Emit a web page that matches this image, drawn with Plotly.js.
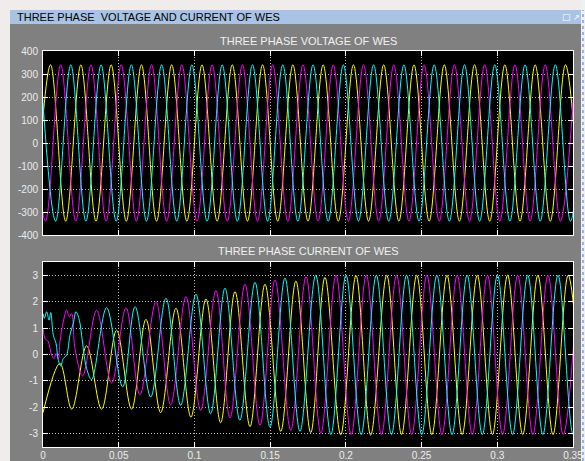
<!DOCTYPE html>
<html>
<head>
<meta charset="utf-8">
<script src="https://cdn.plot.ly/plotly-3.0.1.min.js"></script>
<style>html,body{margin:0;padding:0;background:#efeceb;}#chart{width:585px;height:461px;}</style>
</head>
<body>
<div id="chart"></div>
<script>
// ---- Voltage (V): alternating peak/trough values, one every half cycle (0.01 s)
var vYellowX0 = -0.005, vMagentaX0 = -0.008333, vCyanX0 = -0.001667, vStep = 0.01;
var vYellow = [-340,340,-340,340,-340,340,-340,340,-340,340,-340,340,-340,340,-340,340,-340,340,-340,340,-340,340,-340,340,-340,340,-340,340,-340,340,-340,340,-340,340,-340,340,-340];
var vMagenta = [340,-340,340,-340,340,-340,340,-340,340,-340,340,-340,340,-340,340,-340,340,-340,340,-340,340,-340,340,-340,340,-340,340,-340,340,-340,340,-340,340,-340,340,-340,340];
var vCyan = [340,-340,340,-340,340,-340,340,-340,340,-340,340,-340,340,-340,340,-340,340,-340,340,-340,340,-340,340,-340,340,-340,340,-340,340,-340,340,-340,340,-340,340,-340,340];

// ---- Current (A): times and values
var iYellowT = [0,0.0112,0.019,0.0288,0.0387,0.0486,0.0585,0.068,0.0777,0.0878,0.0977,0.1076,0.1173,0.1268,0.1367,0.1466,0.157,0.167,0.1768,0.1862,0.1966,0.2067,0.2164,0.227,0.2368,0.2468,0.2568,0.2668,0.2768,0.2868,0.2968,0.3068,0.3168,0.3268,0.3368,0.3468,0.3568];
var iYellow  = [-2.2,-0.34,-2.07,0.33,-2.07,0.92,-2.07,1.33,-2.2,1.75,-2.37,2.1,-2.58,2.38,-2.73,2.66,-2.91,2.78,-2.96,2.92,-3.04,2.99,-3.05,3.0,-3.03,3.0,-3.03,3.0,-3.03,3.0,-3.03,3.0,-3.03,3.0,-3.03,3.0,-3.03];

var iMagentaT = [0,0.0013,0.0035,0.0057,0.0073,0.0086,0.0101,0.0112,0.0134,0.0156,0.0173,0.0189,0.0211,
  0.0262,0.0354,0.0453,0.0548,0.064,0.0746,0.0843,0.0944,0.1041,0.1142,0.1235,0.1334,0.1433,0.1532,0.1636,0.1737,
  0.1835,0.1935,0.2035,0.2135,0.2235,0.2335,0.2435,0.2535,0.2635,0.2735,0.2835,0.2935,0.3035,0.3135,0.3235,0.3335,0.3435,0.3535];
var iMagenta = [1.0,0.61,0.48,-0.02,-0.15,0.04,-0.15,0.49,1.24,1.68,1.43,1.55,0.23,
  -0.81,1.67,-1.08,1.77,-1.52,2.0,-1.9,2.19,-2.11,2.42,-2.4,2.66,-2.68,2.82,-2.87,2.95,
  -2.98,3.0,-3.03,3.0,-3.03,3.0,-3.03,3.0,-3.03,3.0,-3.03,3.0,-3.03,3.0,-3.03,3.0,-3.03,3.0];

var iCyanT = [0,0.0009,0.0024,0.004,0.0051,0.0068,0.0086,0.0101,0.0117,0.0134,0.0156,0.0178,0.02,0.0218,0.024,0.0255,0.0288,
  0.0321,0.042,0.0526,0.0608,0.0711,0.0812,0.0909,0.101,0.1107,0.1202,0.13,0.14,0.1499,0.1598,0.1697,
  0.1801,0.1901,0.2001,0.2101,0.2201,0.2301,0.2401,0.2501,0.2601,0.2701,0.2801,0.2901,0.3001,0.3101,0.3201,0.3301,0.3401,0.3501,0.3601];
var iCyan = [1.55,1.37,1.62,1.3,1.59,0.73,0.42,-0.22,-0.43,-0.15,-0.02,0.73,1.18,1.62,1.3,0.73,-0.53,
  -0.95,1.77,-1.23,1.81,-1.61,2.13,-1.92,2.28,-2.24,2.51,-2.49,2.73,-2.75,2.89,-2.91,
  3.0,-3.03,3.0,-3.03,3.0,-3.03,3.0,-3.03,3.0,-3.03,3.0,-3.03,3.0,-3.03,3.0,-3.03,3.0,-3.03,3.0];

// ---- Tick labels
var vTickVals = [400,300,200,100,0,-100,-200,-300,-400];
var vTickText = ['400','300','200','100','0','-100','-200','-300','-400'];
var iTickVals = [3,2,1,0,-1,-2,-3];
var iTickText = ['3','2','1','0','-1','-2','-3'];
var tTickVals = [0,0.05,0.1,0.15,0.2,0.25,0.3,0.35];
var tTickText = ['0','0.05','0.1','0.15','0.2','0.25','0.3','0.35'];

var windowTitle = 'THREE PHASE\u00a0 VOLTAGE AND CURRENT OF WES';
var voltTitle = 'THREE PHASE VOLTAGE OF WES';
var currTitle = 'THREE PHASE CURRENT OF WES';

var YEL = '#ffff00', MAG = '#ff00ff', CYA = '#00ffff';
function ln(c){ return {color:c, width:1, shape:'spline', smoothing:1}; }

var traces = [
  {type:'scatter', mode:'lines', x0:vYellowX0, dx:vStep, y:vYellow, line:ln(YEL), xaxis:'x', yaxis:'y', hoverinfo:'skip'},
  {type:'scatter', mode:'lines', x0:vMagentaX0, dx:vStep, y:vMagenta, line:ln(MAG), xaxis:'x', yaxis:'y', hoverinfo:'skip'},
  {type:'scatter', mode:'lines', x0:vCyanX0, dx:vStep, y:vCyan, line:ln(CYA), xaxis:'x', yaxis:'y', hoverinfo:'skip'},
  {type:'scatter', mode:'lines', x:iYellowT, y:iYellow, line:ln(YEL), xaxis:'x2', yaxis:'y2', hoverinfo:'skip'},
  {type:'scatter', mode:'lines', x:iMagentaT, y:iMagenta, line:ln(MAG), xaxis:'x2', yaxis:'y2', hoverinfo:'skip'},
  {type:'scatter', mode:'lines', x:iCyanT, y:iCyan, line:ln(CYA), xaxis:'x2', yaxis:'y2', hoverinfo:'skip'}
];

var tickFont = {family:'"Liberation Sans Narrow","Arial Narrow","Liberation Sans",sans-serif', size:10, color:'#ececec'};
function ax(extra){
  var a = {showline:true, linecolor:'#ffffff', linewidth:1, mirror:'ticks',
    ticks:'inside', ticklen:5, tickcolor:'#ffffff', tickwidth:1,
    showgrid:true, gridcolor:'#b8b8b8', griddash:'1px,2px', gridwidth:1,
    zeroline:false, fixedrange:true, tickfont:tickFont, ticklabelstandoff:2};
  for (var k in extra) a[k] = extra[k];
  return a;
}

// figure geometry helpers (paper fractions)
var W = 585, H = 461, ML = 43, MR = 12, MT = 51, MB = 14;
var PW = W - ML - MR, PH = H - MT - MB;
function px(x){ return (x - ML) / PW; }
function py(y){ return (H - MB - y) / PH; }

var layout = {
  width: W, height: H,
  margin: {l:ML, r:MR, t:MT, b:MB, pad:0},
  paper_bgcolor: '#808080',
  plot_bgcolor: '#000000',
  showlegend: false,
  xaxis: ax({domain:[0,1], range:[0,0.35], anchor:'y', tickvals:tTickVals, ticktext:tTickText, showticklabels:false}),
  yaxis: ax({domain:[py(235),1], range:[-400,400], anchor:'x', tickvals:vTickVals, ticktext:vTickText}),
  xaxis2: ax({domain:[0,1], range:[0,0.35], anchor:'y2', tickvals:tTickVals, ticktext:tTickText, ticklabelstandoff:-1}),
  yaxis2: ax({domain:[0,py(262)], range:[-3.5,3.5], anchor:'x2', tickvals:iTickVals, ticktext:iTickText}),
  shapes: [
    {type:'rect', xref:'paper', yref:'paper', x0:px(0), x1:px(10), y0:py(H), y1:py(0), fillcolor:'#efeceb', line:{width:0}, layer:'below'},
    {type:'rect', xref:'paper', yref:'paper', x0:px(0), x1:px(W), y0:py(10), y1:py(0), fillcolor:'#efeceb', line:{width:0}, layer:'below'},
    {type:'rect', xref:'paper', yref:'paper', x0:px(581), x1:px(W), y0:py(H), y1:py(0), fillcolor:'#eef0f4', line:{width:0}, layer:'below'},
    {type:'line', xref:'paper', yref:'paper', x0:px(583), x1:px(583), y0:py(H), y1:py(10), line:{color:'#3a7bd5', width:1, dash:'dot'}},
    {type:'rect', xref:'paper', yref:'paper', x0:px(10), x1:px(581), y0:py(24), y1:py(10), fillcolor:'#a9c3e4', line:{width:0}, layer:'below'}
  ],
  annotations: [
    {xref:'paper', yref:'paper', x:px(15), y:py(17), xanchor:'left', yanchor:'middle', showarrow:false,
     text:windowTitle, font:{family:'"Liberation Sans Narrow","Liberation Sans",sans-serif', size:11, color:'#000000'}},
    {xref:'paper', yref:'paper', x:px(566), y:py(17), xanchor:'center', yanchor:'middle', showarrow:false,
     text:'\u25a1', font:{family:'DejaVu Sans', size:9, color:'#ffffff'}},
    {xref:'paper', yref:'paper', x:px(576), y:py(17), xanchor:'center', yanchor:'middle', showarrow:false,
     text:'\u2197', font:{family:'DejaVu Sans', size:8, color:'#ffffff'}},
    {xref:'paper', yref:'paper', x:0.5, y:py(41), xanchor:'center', yanchor:'middle', showarrow:false,
     text:voltTitle, font:{family:'"Liberation Sans Narrow","Liberation Sans",sans-serif', size:11, color:'#f0f0f0'}},
    {xref:'paper', yref:'paper', x:0.5, y:py(251), xanchor:'center', yanchor:'middle', showarrow:false,
     text:currTitle, font:{family:'"Liberation Sans Narrow","Liberation Sans",sans-serif', size:11, color:'#f0f0f0'}}
  ]
};

Plotly.newPlot('chart', traces, layout, {staticPlot:true, displayModeBar:false});
</script>
</body>
</html>
